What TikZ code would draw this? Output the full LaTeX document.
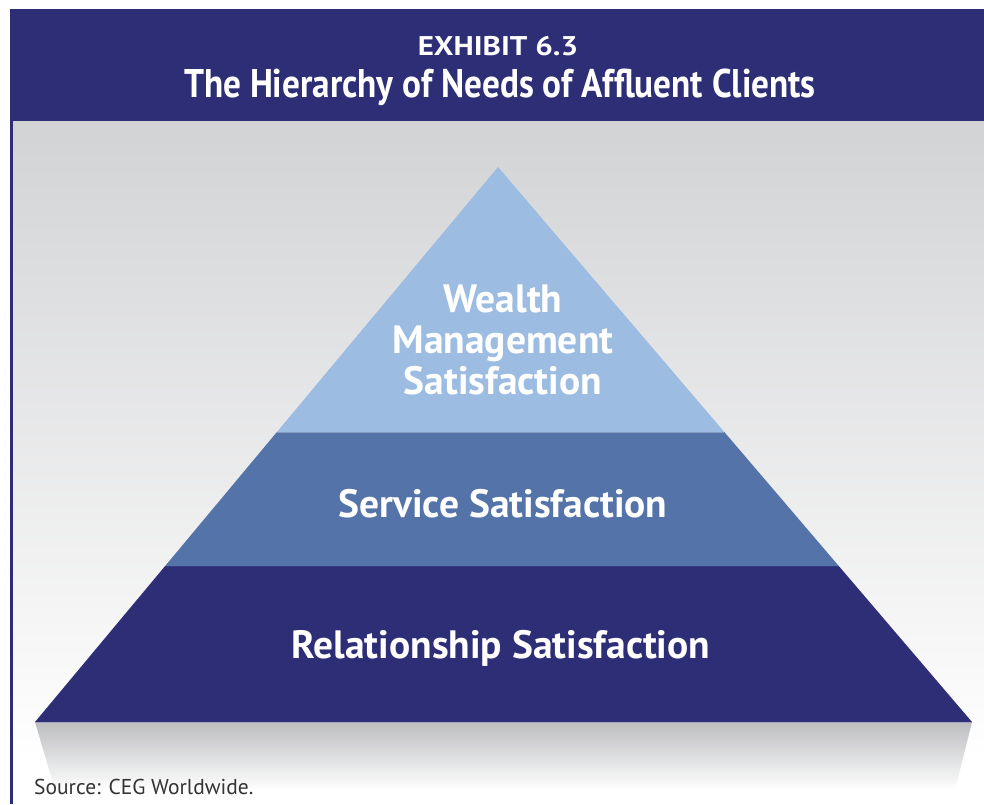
\documentclass[tikz,border=0pt]{standalone}
\usepackage{fontspec}
\setmainfont{PT Sans}
\newfontfamily\narrowfont[FakeStretch=0.88]{PT Sans}
\newfontfamily\widefont[FakeStretch=1.15]{PT Sans}
\usepackage{tikz}
\usetikzlibrary{calc}
\definecolor{navy}{RGB}{46,46,119}
\definecolor{midblue}{RGB}{84,115,168}
\definecolor{lightblue}{RGB}{157,188,226}
\definecolor{bggray}{RGB}{210,211,213}
\definecolor{shadowgray}{RGB}{188,189,191}
\tikzstyle{tierlabel} = [text=white, align=center, font=\bfseries\fontsize{39.5}{41}\selectfont]
\tikzstyle{headline} = [text=white]

\begin{document}
\begin{tikzpicture}[x=1pt,y=-1pt]
        \useasboundingbox (0,0) rectangle (984,804);
        % backdrop and frame
        \fill[white] (0,0) rectangle (984,804);
        \shade[top color=bggray, bottom color=white] (13,121) rectangle (984,760);
        \fill[navy] (10,9) rectangle (984,121);
        \fill[navy] (10,9) rectangle (13,804);
        \node[headline, font=\widefont\bfseries\fontsize{27}{30}\selectfont] (exhibit) at (498,46) {EXHIBIT 6.3};
        \node[headline, font=\narrowfont\bfseries\fontsize{40}{44}\selectfont] (title) at (500,87) {The Hierarchy of Needs of Affluent Clients};
        % pyramid corners and tier edges
        \coordinate (apex) at (498,167);
        \coordinate (bl) at (35,722);
        \coordinate (br) at (972,722);
        \coordinate (ml) at ($(apex)!0.4775!(bl)$);
        \coordinate (mr) at ($(apex)!0.4775!(br)$);
        \coordinate (ll) at ($(apex)!0.7189!(bl)$);
        \coordinate (lr) at ($(apex)!0.7189!(br)$);
        % shadow under the base
        \shade[top color=shadowgray, bottom color=white] (bl) -- (br) -- (955,790) -- (55,790) -- cycle;
        \fill[lightblue] (apex) -- (mr) -- (ml) -- cycle;
        \fill[midblue] (ml) -- (mr) -- (lr) -- (ll) -- cycle;
        \fill[navy] (ll) -- (lr) -- (br) -- (bl) -- cycle;
        \draw[line width=1pt, midblue!70!white] (ml) -- (mr);
        \draw[line width=1pt, navy!80!midblue] (ll) -- (lr);
        \draw[line width=1pt, navy!45!white] (bl) -- (br);
        \node[tierlabel] (wealth) at (503,340) {Wealth\\Management\\Satisfaction};
        \node[tierlabel] (service) at (503,504) {Service Satisfaction};
        \node[tierlabel] (relation) at (501,648) {Relationship Satisfaction};
        \node[anchor=west, text=black!80, font=\fontsize{21.5}{24}\selectfont, inner sep=0pt] (source) at (34,787) {Source: CEG Worldwide.};
\end{tikzpicture}
\end{document}
